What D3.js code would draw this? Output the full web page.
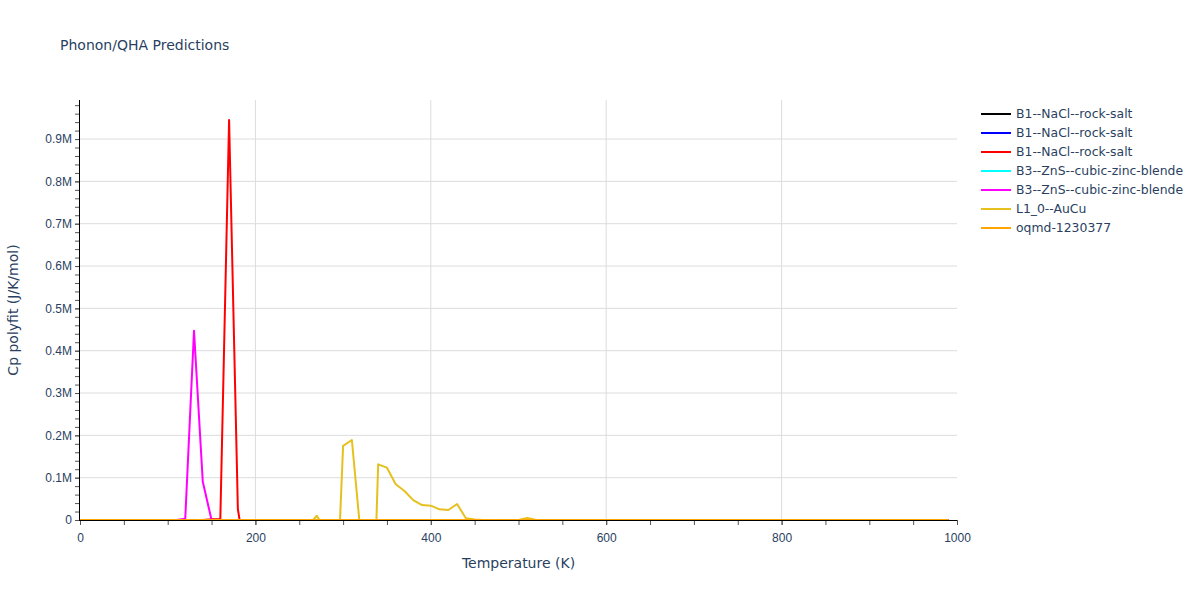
<!DOCTYPE html>
<html>
<head>
<meta charset="utf-8">
<script src="https://cdn.jsdelivr.net/npm/d3@7"></script>
<style>
  body { margin: 0; background: #fff; }
  svg { font-family: "DejaVu Sans", verdana, arial, sans-serif; }
</style>
</head>
<body>
<div id="chart"></div>
<script>
// series as [temperature K, Cp] points
const seriesNames = [
    "B1--NaCl--rock-salt",
    "B1--NaCl--rock-salt",
    "B1--NaCl--rock-salt",
    "B3--ZnS--cubic-zinc-blende",
    "B3--ZnS--cubic-zinc-blende",
    "L1_0--AuCu",
    "oqmd-1230377"
];
const seriesColors = ["#000000", "#0000ff", "#ff0000", "#00ffff", "#ff00ff", "#e6c01e", "#ffa500"];

const nacl1 = [[0, 0], [990, 0]];
const nacl2 = [[0, 0], [990, 0]];
const nacl3 = [[0, 0], [140, 0], [150, 2000], [160, 2000], [170, 945000], [180, 26000], [190, -104000], [200, 0], [990, 0]];
const zns1 = [[0, 0], [990, 0]];
const zns2 = [[0, 0], [110, 0], [120, 3000], [130, 447000], [140, 90500], [150, 0], [160, 0], [990, 0]];
const aucu = [[0, 0], [260, -14000], [270, 10000], [280, -23000], [290, -325000], [300, 175000],
    [310, 189000], [320, -34000], [330, -526000], [340, 131500], [350, 123600], [360, 84300],
    [370, 68500], [380, 47000], [390, 35400], [400, 33800], [410, 25200], [420, 23600],
    [430, 37800], [440, 4000], [450, 1000], [460, 0], [500, 0], [510, 5000], [520, 0], [990, 0]];
const oqmd = [[0, 0], [990, 0]];
const seriesData = [nacl1, nacl2, nacl3, zns1, zns2, aucu, oqmd];

const xTicks = [0, 200, 400, 600, 800, 1000];
const yTicks = [0, 100000, 200000, 300000, 400000, 500000, 600000, 700000, 800000, 900000];

const W = 1200, H = 600;
const margin = { top: 100, right: 243, bottom: 80, left: 80 };
const pw = W - margin.left - margin.right,
    ph = H - margin.top - margin.bottom;
const textColor = "#2a3f5f";

const svg = d3.select("#chart").append("svg")
    .attr("width", W)
    .attr("height", H);

svg.append("text")
    .attr("x", 60)
    .attr("y", 50)
    .attr("fill", textColor)
    .style("font-size", "14px")
    .text("Phonon/QHA Predictions");

const g = svg.append("g")
    .attr("transform", `translate(${margin.left}, ${margin.top})`);

const x = d3.scaleLinear().domain([0, 1000]).range([0, pw]);
const yMax = d3.max(nacl3, d => d[1]) * 1.05;
const y = d3.scaleLinear().domain([0, yMax]).range([ph, 0]);

// grid
g.selectAll(".vgrid")
    .data(xTicks.filter(t => t > 0 && t < 1000))
    .enter().append("line")
    .attr("x1", d => x(d)).attr("x2", d => x(d))
    .attr("y1", 0).attr("y2", ph)
    .attr("stroke", "#dcdcdc");

g.selectAll(".hgrid")
    .data(yTicks.filter(t => t > 0))
    .enter().append("line")
    .attr("x1", 0).attr("x2", pw)
    .attr("y1", d => y(d)).attr("y2", d => y(d))
    .attr("stroke", "#dcdcdc");

// lines
g.append("clipPath").attr("id", "clip")
    .append("rect").attr("width", pw).attr("height", ph);

const line = d3.line().x(d => x(d[0])).y(d => y(d[1]));

g.append("g").attr("clip-path", "url(#clip)")
    .selectAll("path")
    .data(seriesData)
    .enter().append("path")
    .attr("d", d => line(d))
    .attr("fill", "none")
    .attr("stroke", (d, i) => seriesColors[i])
    .attr("stroke-width", 2)
    .attr("stroke-linejoin", "round");

// axes
const xMinor = d3.range(0, 1001, 50);
const yMinor = d3.range(0, yMax, 20000);

const xAxis = g.append("g").attr("transform", `translate(0, ${ph})`);
xAxis.call(d3.axisBottom(x).tickValues(xMinor).tickSize(5).tickFormat(""));
xAxis.select(".domain").remove();
xAxis.selectAll(".tick line").attr("stroke", "#555");
xAxis.append("g").call(d3.axisBottom(x).tickValues(xTicks).tickSize(5).tickPadding(8).tickFormat(d3.format("d")))
    .call(a => a.select(".domain").remove())
    .call(a => a.selectAll(".tick line").attr("stroke", "#555"))
    .call(a => a.selectAll("text").attr("fill", textColor).style("font-size", "12px").style("font-family", null));

const yAxis = g.append("g");
yAxis.call(d3.axisLeft(y).tickValues(yMinor).tickSize(5).tickFormat(""));
yAxis.select(".domain").remove();
yAxis.selectAll(".tick line").attr("stroke", "#555");
yAxis.append("g").call(d3.axisLeft(y).tickValues(yTicks).tickSize(5).tickPadding(3)
        .tickFormat(d => d === 0 ? "0" : (d / 1e6).toFixed(1) + "M"))
    .call(a => a.select(".domain").remove())
    .call(a => a.selectAll(".tick line").attr("stroke", "#555"))
    .call(a => a.selectAll("text").attr("fill", textColor).style("font-size", "12px").style("font-family", null));

g.append("line").attr("x1", 0).attr("x2", pw).attr("y1", ph + 0.5).attr("y2", ph + 0.5)
    .attr("stroke", "#000").attr("stroke-width", 1);
g.append("line").attr("x1", -0.5).attr("x2", -0.5).attr("y1", 0).attr("y2", ph + 1)
    .attr("stroke", "#000").attr("stroke-width", 1);

// axis titles
svg.append("text")
    .attr("x", margin.left + pw / 2)
    .attr("y", 568)
    .attr("text-anchor", "middle")
    .attr("fill", textColor)
    .style("font-size", "14px")
    .text("Temperature (K)");

svg.append("text")
    .attr("transform", `translate(18, ${margin.top + ph / 2}) rotate(-90)`)
    .attr("text-anchor", "middle")
    .attr("fill", textColor)
    .style("font-size", "14px")
    .text("Cp polyfit (J/K/mol)");

// legend
const legend = svg.append("g").attr("transform", "translate(981, 114)");
const item = legend.selectAll("g")
    .data(seriesNames)
    .enter().append("g")
    .attr("transform", (d, i) => `translate(0, ${i * 19})`);
item.append("line")
    .attr("x1", 0).attr("x2", 30)
    .attr("stroke", (d, i) => seriesColors[i])
    .attr("stroke-width", 2);
item.append("text")
    .attr("x", 35)
    .attr("dy", "0.35em")
    .attr("fill", textColor)
    .style("font-size", "12.4px")
    .text(d => d);
</script>
</body>
</html>
